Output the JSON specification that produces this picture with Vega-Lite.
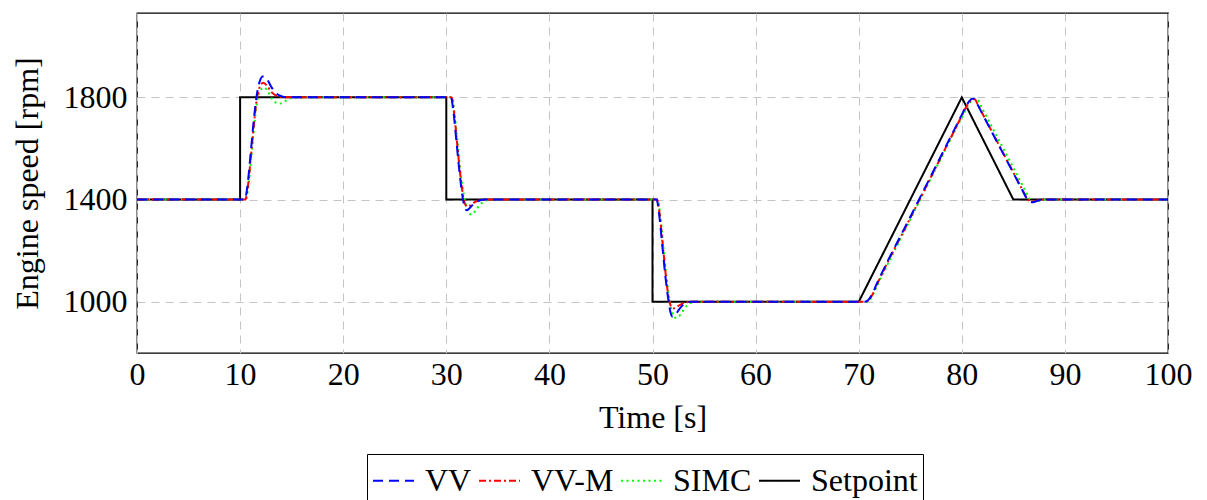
{
  "$schema": "https://vega.github.io/schema/vega-lite/v6.json",
  "width": 1031,
  "height": 340,
  "autosize": {"type": "none"},
  "padding": {"left": 137, "top": 13, "right": 39, "bottom": 147},
  "background": "white",
  "config": {
    "font": "Liberation Serif",
    "view": {"stroke": "#000000", "strokeWidth": 1.3},
    "axis": {
      "grid": true,
      "gridDash": [8, 6],
      "gridColor": "#c4c4c4",
      "gridWidth": 1,
      "gridOpacity": 1,
      "domain": false,
      "ticks": false,
      "tickSize": 0,
      "labelFont": "Liberation Serif",
      "labelFontSize": 32,
      "labelColor": "#000000",
      "labelFlush": false,
      "labelOverlap": false,
      "titleFont": "Liberation Serif",
      "titleFontSize": 32,
      "titleFontWeight": "normal",
      "titleColor": "#000000"
    },
    "axisX": {"labelPadding": 6, "titlePadding": 12},
    "axisY": {"labelPadding": 10, "titlePadding": 19},
    "legend": {
      "symbolType": "stroke",
      "symbolSize": 1681,
      "symbolStrokeWidth": 2,
      "labelFont": "Liberation Serif",
      "labelFontSize": 32,
      "labelColor": "#000000",
      "labelOffset": 10,
      "columnPadding": 3,
      "padding": 5,
      "strokeColor": "#000000",
      "fillColor": "#ffffff",
      "cornerRadius": 0,
      "direction": "horizontal"
    }
  },
  "data": {
    "values": [
      {"s": "Setpoint", "t": 0, "v": 1400},
      {"s": "Setpoint", "t": 10, "v": 1400},
      {"s": "Setpoint", "t": 10, "v": 1800},
      {"s": "Setpoint", "t": 30, "v": 1800},
      {"s": "Setpoint", "t": 30, "v": 1400},
      {"s": "Setpoint", "t": 50, "v": 1400},
      {"s": "Setpoint", "t": 50, "v": 1000},
      {"s": "Setpoint", "t": 70, "v": 1000},
      {"s": "Setpoint", "t": 80, "v": 1800},
      {"s": "Setpoint", "t": 85, "v": 1400},
      {"s": "Setpoint", "t": 100, "v": 1400},

      {"s": "VV", "t": 0, "v": 1400},
      {"s": "VV", "t": 10.45, "v": 1400},
      {"s": "VV", "t": 10.7, "v": 1450},
      {"s": "VV", "t": 11.0, "v": 1570},
      {"s": "VV", "t": 11.3, "v": 1700},
      {"s": "VV", "t": 11.6, "v": 1805},
      {"s": "VV", "t": 11.9, "v": 1862},
      {"s": "VV", "t": 12.2, "v": 1882},
      {"s": "VV", "t": 12.5, "v": 1878},
      {"s": "VV", "t": 12.8, "v": 1858},
      {"s": "VV", "t": 13.1, "v": 1836},
      {"s": "VV", "t": 13.5, "v": 1816},
      {"s": "VV", "t": 14.0, "v": 1805},
      {"s": "VV", "t": 14.6, "v": 1800},
      {"s": "VV", "t": 30.45, "v": 1800},
      {"s": "VV", "t": 30.7, "v": 1740},
      {"s": "VV", "t": 31.0, "v": 1620},
      {"s": "VV", "t": 31.3, "v": 1500},
      {"s": "VV", "t": 31.6, "v": 1405},
      {"s": "VV", "t": 31.8, "v": 1368},
      {"s": "VV", "t": 32.0, "v": 1358},
      {"s": "VV", "t": 32.3, "v": 1368},
      {"s": "VV", "t": 32.7, "v": 1386},
      {"s": "VV", "t": 33.2, "v": 1396},
      {"s": "VV", "t": 33.8, "v": 1400},
      {"s": "VV", "t": 50.4, "v": 1400},
      {"s": "VV", "t": 50.65, "v": 1340},
      {"s": "VV", "t": 50.95, "v": 1220},
      {"s": "VV", "t": 51.25, "v": 1100},
      {"s": "VV", "t": 51.55, "v": 1005},
      {"s": "VV", "t": 51.75, "v": 958},
      {"s": "VV", "t": 51.95, "v": 942},
      {"s": "VV", "t": 52.2, "v": 948},
      {"s": "VV", "t": 52.6, "v": 972},
      {"s": "VV", "t": 53.1, "v": 992},
      {"s": "VV", "t": 53.7, "v": 1000},
      {"s": "VV", "t": 70.6, "v": 1000},
      {"s": "VV", "t": 70.9, "v": 1006},
      {"s": "VV", "t": 71.3, "v": 1030},
      {"s": "VV", "t": 71.7, "v": 1066},
      {"s": "VV", "t": 72.0, "v": 1092},
      {"s": "VV", "t": 75.0, "v": 1332},
      {"s": "VV", "t": 80.0, "v": 1732},
      {"s": "VV", "t": 80.4, "v": 1764},
      {"s": "VV", "t": 80.7, "v": 1784},
      {"s": "VV", "t": 81.0, "v": 1795},
      {"s": "VV", "t": 81.2, "v": 1795},
      {"s": "VV", "t": 81.5, "v": 1774},
      {"s": "VV", "t": 82.0, "v": 1735},
      {"s": "VV", "t": 83.0, "v": 1658},
      {"s": "VV", "t": 84.0, "v": 1581},
      {"s": "VV", "t": 85.0, "v": 1504},
      {"s": "VV", "t": 86.0, "v": 1427},
      {"s": "VV", "t": 86.3, "v": 1404},
      {"s": "VV", "t": 86.6, "v": 1392},
      {"s": "VV", "t": 86.9, "v": 1390},
      {"s": "VV", "t": 87.3, "v": 1395},
      {"s": "VV", "t": 88.0, "v": 1400},
      {"s": "VV", "t": 100, "v": 1400},

      {"s": "VV-M", "t": 0, "v": 1400},
      {"s": "VV-M", "t": 10.5, "v": 1400},
      {"s": "VV-M", "t": 10.75, "v": 1450},
      {"s": "VV-M", "t": 11.05, "v": 1570},
      {"s": "VV-M", "t": 11.35, "v": 1700},
      {"s": "VV-M", "t": 11.65, "v": 1800},
      {"s": "VV-M", "t": 11.95, "v": 1845},
      {"s": "VV-M", "t": 12.25, "v": 1857},
      {"s": "VV-M", "t": 12.6, "v": 1846},
      {"s": "VV-M", "t": 13.0, "v": 1823},
      {"s": "VV-M", "t": 13.5, "v": 1807},
      {"s": "VV-M", "t": 14.0, "v": 1801},
      {"s": "VV-M", "t": 14.5, "v": 1800},
      {"s": "VV-M", "t": 30.5, "v": 1800},
      {"s": "VV-M", "t": 30.75, "v": 1740},
      {"s": "VV-M", "t": 31.05, "v": 1620},
      {"s": "VV-M", "t": 31.35, "v": 1500},
      {"s": "VV-M", "t": 31.65, "v": 1410},
      {"s": "VV-M", "t": 31.85, "v": 1380},
      {"s": "VV-M", "t": 32.1, "v": 1372},
      {"s": "VV-M", "t": 32.4, "v": 1379},
      {"s": "VV-M", "t": 32.8, "v": 1391},
      {"s": "VV-M", "t": 33.3, "v": 1398},
      {"s": "VV-M", "t": 33.8, "v": 1400},
      {"s": "VV-M", "t": 50.45, "v": 1400},
      {"s": "VV-M", "t": 50.7, "v": 1340},
      {"s": "VV-M", "t": 51.0, "v": 1220},
      {"s": "VV-M", "t": 51.3, "v": 1100},
      {"s": "VV-M", "t": 51.6, "v": 1008},
      {"s": "VV-M", "t": 51.85, "v": 980},
      {"s": "VV-M", "t": 52.1, "v": 975},
      {"s": "VV-M", "t": 52.5, "v": 984},
      {"s": "VV-M", "t": 53.0, "v": 995},
      {"s": "VV-M", "t": 53.6, "v": 1000},
      {"s": "VV-M", "t": 70.65, "v": 1000},
      {"s": "VV-M", "t": 70.95, "v": 1006},
      {"s": "VV-M", "t": 71.35, "v": 1030},
      {"s": "VV-M", "t": 71.75, "v": 1066},
      {"s": "VV-M", "t": 72.05, "v": 1092},
      {"s": "VV-M", "t": 75.0, "v": 1328},
      {"s": "VV-M", "t": 80.0, "v": 1728},
      {"s": "VV-M", "t": 80.4, "v": 1760},
      {"s": "VV-M", "t": 80.75, "v": 1782},
      {"s": "VV-M", "t": 81.05, "v": 1793},
      {"s": "VV-M", "t": 81.25, "v": 1793},
      {"s": "VV-M", "t": 81.55, "v": 1772},
      {"s": "VV-M", "t": 82.0, "v": 1737},
      {"s": "VV-M", "t": 83.0, "v": 1660},
      {"s": "VV-M", "t": 84.0, "v": 1583},
      {"s": "VV-M", "t": 85.0, "v": 1506},
      {"s": "VV-M", "t": 86.0, "v": 1429},
      {"s": "VV-M", "t": 86.35, "v": 1403},
      {"s": "VV-M", "t": 86.65, "v": 1394},
      {"s": "VV-M", "t": 86.95, "v": 1393},
      {"s": "VV-M", "t": 87.35, "v": 1397},
      {"s": "VV-M", "t": 88.0, "v": 1400},
      {"s": "VV-M", "t": 100, "v": 1400},

      {"s": "SIMC", "t": 0, "v": 1400},
      {"s": "SIMC", "t": 10.55, "v": 1400},
      {"s": "SIMC", "t": 10.8, "v": 1450},
      {"s": "SIMC", "t": 11.1, "v": 1570},
      {"s": "SIMC", "t": 11.4, "v": 1700},
      {"s": "SIMC", "t": 11.7, "v": 1795},
      {"s": "SIMC", "t": 12.0, "v": 1830},
      {"s": "SIMC", "t": 12.35, "v": 1838},
      {"s": "SIMC", "t": 12.7, "v": 1822},
      {"s": "SIMC", "t": 13.1, "v": 1794},
      {"s": "SIMC", "t": 13.5, "v": 1779},
      {"s": "SIMC", "t": 13.9, "v": 1776},
      {"s": "SIMC", "t": 14.3, "v": 1784},
      {"s": "SIMC", "t": 14.8, "v": 1795},
      {"s": "SIMC", "t": 15.5, "v": 1800},
      {"s": "SIMC", "t": 30.55, "v": 1800},
      {"s": "SIMC", "t": 30.8, "v": 1740},
      {"s": "SIMC", "t": 31.1, "v": 1620},
      {"s": "SIMC", "t": 31.4, "v": 1500},
      {"s": "SIMC", "t": 31.7, "v": 1420},
      {"s": "SIMC", "t": 31.95, "v": 1372},
      {"s": "SIMC", "t": 32.2, "v": 1347},
      {"s": "SIMC", "t": 32.45, "v": 1342},
      {"s": "SIMC", "t": 32.8, "v": 1355},
      {"s": "SIMC", "t": 33.2, "v": 1377},
      {"s": "SIMC", "t": 33.7, "v": 1393},
      {"s": "SIMC", "t": 34.3, "v": 1400},
      {"s": "SIMC", "t": 50.5, "v": 1400},
      {"s": "SIMC", "t": 50.75, "v": 1340},
      {"s": "SIMC", "t": 51.05, "v": 1220},
      {"s": "SIMC", "t": 51.35, "v": 1100},
      {"s": "SIMC", "t": 51.65, "v": 1010},
      {"s": "SIMC", "t": 51.9, "v": 962},
      {"s": "SIMC", "t": 52.2, "v": 938},
      {"s": "SIMC", "t": 52.5, "v": 941},
      {"s": "SIMC", "t": 52.9, "v": 962},
      {"s": "SIMC", "t": 53.3, "v": 984},
      {"s": "SIMC", "t": 53.8, "v": 997},
      {"s": "SIMC", "t": 54.3, "v": 1000},
      {"s": "SIMC", "t": 70.7, "v": 1000},
      {"s": "SIMC", "t": 71.05, "v": 1008},
      {"s": "SIMC", "t": 71.45, "v": 1034},
      {"s": "SIMC", "t": 71.85, "v": 1070},
      {"s": "SIMC", "t": 72.15, "v": 1094},
      {"s": "SIMC", "t": 75.0, "v": 1322},
      {"s": "SIMC", "t": 80.0, "v": 1722},
      {"s": "SIMC", "t": 80.45, "v": 1757},
      {"s": "SIMC", "t": 80.85, "v": 1782},
      {"s": "SIMC", "t": 81.2, "v": 1795},
      {"s": "SIMC", "t": 81.45, "v": 1795},
      {"s": "SIMC", "t": 81.75, "v": 1775},
      {"s": "SIMC", "t": 82.2, "v": 1740},
      {"s": "SIMC", "t": 83.2, "v": 1663},
      {"s": "SIMC", "t": 84.2, "v": 1586},
      {"s": "SIMC", "t": 85.2, "v": 1509},
      {"s": "SIMC", "t": 86.2, "v": 1432},
      {"s": "SIMC", "t": 86.6, "v": 1402},
      {"s": "SIMC", "t": 86.9, "v": 1393},
      {"s": "SIMC", "t": 87.2, "v": 1392},
      {"s": "SIMC", "t": 87.6, "v": 1396},
      {"s": "SIMC", "t": 88.3, "v": 1400},
      {"s": "SIMC", "t": 100, "v": 1400}
    ]
  },
  "encoding": {
    "x": {
      "field": "t",
      "type": "quantitative",
      "scale": {"domain": [0, 100], "nice": false, "zero": false},
      "axis": {"title": "Time [s]", "values": [0, 10, 20, 30, 40, 50, 60, 70, 80, 90, 100], "format": "d"}
    },
    "y": {
      "field": "v",
      "type": "quantitative",
      "scale": {"domain": [800, 2130], "nice": false, "zero": false},
      "axis": {"title": "Engine speed [rpm]", "values": [1000, 1400, 1800], "format": "d"}
    },
    "color": {
      "field": "s",
      "type": "nominal",
      "scale": {
        "domain": ["VV", "VV-M", "SIMC", "Setpoint"],
        "range": ["#0000ff", "#ff0000", "#00ff00", "#000000"]
      },
      "legend": {"title": null, "orient": "none", "legendX": 230, "legendY": 441}
    },
    "strokeDash": {
      "field": "s",
      "type": "nominal",
      "scale": {
        "domain": ["VV", "VV-M", "SIMC", "Setpoint"],
        "range": [[10, 6], [7, 3, 2, 3], [2, 3.5], [1, 0]]
      },
      "legend": {"title": null, "orient": "none", "legendX": 230, "legendY": 441}
    }
  },
  "layer": [
    {
      "transform": [{"filter": "datum.s === 'Setpoint'"}],
      "mark": {"type": "line", "strokeWidth": 2},
      "encoding": {"order": {"value": null}}
    },
    {
      "transform": [{"filter": "datum.s === 'SIMC'"}],
      "mark": {"type": "line", "strokeWidth": 2, "interpolate": "monotone"}
    },
    {
      "transform": [{"filter": "datum.s === 'VV-M'"}],
      "mark": {"type": "line", "strokeWidth": 2, "interpolate": "monotone"}
    },
    {
      "transform": [{"filter": "datum.s === 'VV'"}],
      "mark": {"type": "line", "strokeWidth": 2, "interpolate": "monotone"}
    }
  ]
}
